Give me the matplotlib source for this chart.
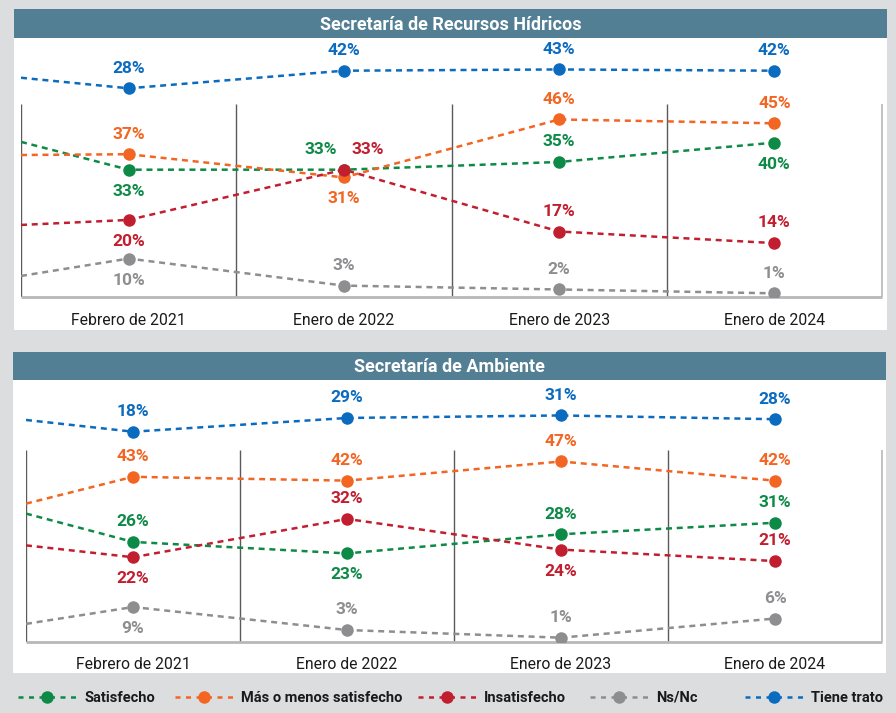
import matplotlib.pyplot as plt
from matplotlib.patches import Rectangle
from matplotlib.lines import Line2D

plt.rcParams['font.family'] = ['Roboto', 'DejaVu Sans']

# ---- data ----
months = ['Febrero de 2021', 'Enero de 2022', 'Enero de 2023', 'Enero de 2024']
series_names = ['Satisfecho', 'Más o menos satisfecho', 'Insatisfecho', 'Ns/Nc', 'Tiene trato']

# Secretaría de Recursos Hídricos
hid_satisfecho = [33, 33, 35, 40]
hid_mas_menos = [37, 31, 46, 45]
hid_insatisfecho = [20, 33, 17, 14]
hid_nsnc = [10, 3, 2, 1]
hid_trato = [28, 42, 43, 42]
# value where each line enters at the left edge (earlier survey)
hid_lead = [40.2, 36.8, 18.7, 5.5, 36.4]

# Secretaría de Ambiente
amb_satisfecho = [26, 23, 28, 31]
amb_mas_menos = [43, 42, 47, 42]
amb_insatisfecho = [22, 32, 24, 21]
amb_nsnc = [9, 3, 1, 6]
amb_trato = [18, 29, 31, 28]
amb_lead = [33.4, 36.0, 25.1, 4.6, 27.4]

colors = ['#0e8a47', '#f26522', '#c11f2f', '#8e8e91', '#0b6bbf']
BG = '#dcdddf'
BAR = '#537f94'

W, H = 896, 713
fig = plt.figure(figsize=(W / 100, H / 100), dpi=100)
fig.patch.set_facecolor(BG)


def fx(x):
    return x / W


def fy(y):
    return 1 - y / H


def rect(x0, y0, x1, y1, color):
    fig.add_artist(Rectangle((fx(x0), fy(y1)), (x1 - x0) / W, (y1 - y0) / H,
                             transform=fig.transFigure, facecolor=color,
                             edgecolor='none', zorder=0))


def draw_panel(title, box, bar_bottom, frame, trato_map, values, lead, place, tick_pad):
    x0, y0, x1, y1 = box
    left, right, top, bottom = frame
    rect(x0, y0, x1, y1, 'white')
    rect(x0, y0, x1, bar_bottom, BAR)
    fig.text(fx((x0 + x1) / 2), fy((y0 + bar_bottom) / 2 + 1.5), title, color='white',
             fontsize=13, fontweight='bold', ha='center', va='center')

    ax = fig.add_axes([fx(left), fy(bottom), (right - left) / W, (bottom - bar_bottom) / H])
    ax.set_facecolor('none')
    ax.set_xlim(-0.5, 3.5)
    ax.set_ylim(0, 50 * (bottom - bar_bottom) / (bottom - top))
    for s in ax.spines.values():
        s.set_visible(False)
    ax.set_yticks([])
    ax.set_xticks(range(len(months)))
    ax.set_xticklabels(months, fontsize=11.3, color='#1a1a1a')
    ax.tick_params(axis='x', length=0, pad=tick_pad)

    ax.vlines([-0.5, 0.5, 1.5, 2.5], 0, 50, color='#5a5a5a', lw=1, zorder=1)
    ax.vlines(3.5, 0, 50, color='#b8b8b8', lw=1.2, zorder=1, clip_on=False)
    ax.hlines(0, -0.5, 3.5, color='#b8b8b8', lw=2, zorder=1, clip_on=False)

    v0, slope = trato_map
    ax2 = ax.twinx()
    ax2.set_ylim((v0 - bottom) / slope, (v0 - bar_bottom) / slope)
    ax2.set_yticks([])
    for s in ax2.spines.values():
        s.set_visible(False)

    xs = [-0.5] + list(range(len(months)))
    for i, vals in enumerate(values):
        a = ax2 if i == 4 else ax
        a.plot(xs, [lead[i]] + vals, color=colors[i], lw=1.8,
               linestyle=(0, (2.4, 1.9)), zorder=3)
        a.plot(range(len(vals)), vals, 'o', color=colors[i], ms=9, zorder=4,
               markeredgewidth=0)
        for j, v in enumerate(vals):
            dx, dy = place[i][j]
            a.annotate(f'{v}%', (j, v), xytext=(dx, dy), textcoords='offset points',
                       ha='center', va='center', color=colors[i], fontsize=12.5,
                       fontweight='bold', zorder=5)


U, D = 14.5, -15.5
hid_place = [
    [(0, D), (-17, U), (0, U), (0, D)],
    [(0, U), (0, D), (0, U), (0, U)],
    [(0, D), (17, U), (0, U), (0, U)],
    [(0, D), (0, U), (0, U), (0, U)],
    [(0, U), (0, U), (0, U), (0, U)],
]
amb_place = [
    [(0, U), (0, D), (0, U), (0, U)],
    [(0, U), (0, U), (0, U), (0, U)],
    [(0, D), (0, U), (0, D), (0, U)],
    [(0, D), (0, U), (0, U), (0, U)],
    [(0, U), (0, U), (0, U), (0, U)],
]

draw_panel('Secretaría de Recursos Hídricos', (14, 9, 887, 330), 38,
           (21, 882, 104, 297.2), (123.5, 1.257),
           [hid_satisfecho, hid_mas_menos, hid_insatisfecho, hid_nsnc, hid_trato],
           hid_lead, hid_place, 11.5)
draw_panel('Secretaría de Ambiente', (13, 352, 886, 673), 380,
           (26, 882, 450, 641.5), (454.2, 1.25),
           [amb_satisfecho, amb_mas_menos, amb_insatisfecho, amb_nsnc, amb_trato],
           amb_lead, amb_place, 11.5)

# ---- legend ----
leg_y = 696.5
leg_marker_x = [47, 204, 447, 619, 774]
for name, c, mx in zip(series_names, colors, leg_marker_x):
    fig.add_artist(Line2D([fx(mx - 29), fx(mx + 29)], [fy(leg_y)] * 2,
                          transform=fig.transFigure, color=c, lw=1.8,
                          linestyle=(0, (2.0, 2.2))))
    fig.add_artist(Line2D([fx(mx)], [fy(leg_y)], transform=fig.transFigure,
                          marker='o', color=c, ms=9, markeredgewidth=0))
    fig.text(fx(mx + 37), fy(leg_y + 1.5), name, fontsize=10.5, fontweight='bold',
             color='#1a1a1a', ha='left', va='center')

fig.savefig('out.png', dpi=100, facecolor=BG)
